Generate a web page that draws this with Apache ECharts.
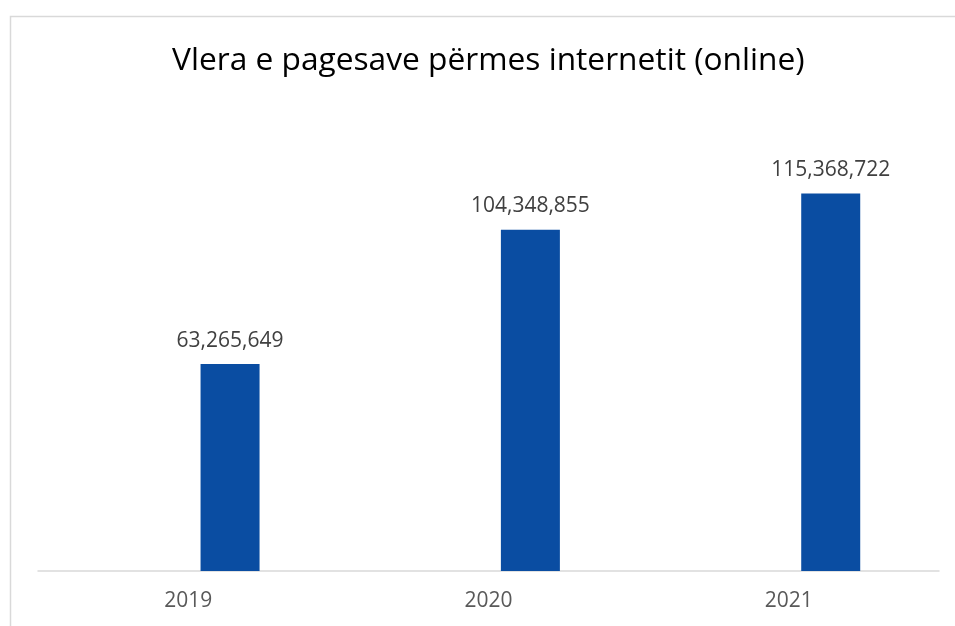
<!DOCTYPE html>
<html>
<head>
<meta charset="utf-8">
<script src="https://cdn.jsdelivr.net/npm/echarts@6/dist/echarts.min.js"></script>
<style>
  html, body { margin: 0; padding: 0; background: #fff; }
  #chart { width: 955px; height: 626px; }
</style>
</head>
<body>
<div id="chart"></div>
<script>
// te dhenat
var years = ['2019', '2020', '2021'];
var values = [63265649, 104348855, 115368722];
var emptySeries = [null, null, null];

var chart = echarts.init(document.getElementById('chart'));

var option = {
  animation: false,
  backgroundColor: '#fff',
  title: {
    text: 'Vlera e pagesave përmes internetit (online)',
    left: 167,
    top: 40,
    textStyle: {
      fontFamily: 'Open Sans',
      fontSize: 31.7,
      fontWeight: 'normal',
      color: '#000'
    }
  },
  graphic: [
    {
      type: 'rect',
      left: 8,
      top: 14,
      shape: { width: 1000, height: 700 },
      style: { fill: 'none', stroke: '#d9d9d9', lineWidth: 1.5 },
      silent: true
    }
  ],
  grid: {
    left: 38,
    right: 16,
    top: 113,
    bottom: 55
  },
  xAxis: {
    type: 'category',
    data: years,
    axisTick: { show: false },
    axisLine: { lineStyle: { color: '#d9d9d9', width: 1.5 } },
    axisLabel: {
      fontFamily: 'Open Sans',
      fontSize: 21,
      color: '#595959',
      margin: 20
    }
  },
  yAxis: {
    type: 'value',
    min: 0,
    max: 140000000,
    interval: 20000000,
    show: false
  },
  series: [
    {
      type: 'bar',
      data: emptySeries,
      barWidth: 59,
      barGap: '42%'
    },
    {
      type: 'bar',
      data: values,
      barWidth: 59,
      barGap: '42%',
      itemStyle: { color: '#0a4da2' },
      label: {
        show: true,
        position: 'top',
        distance: 13,
        fontFamily: 'Open Sans',
        fontSize: 21,
        color: '#404040',
        formatter: function (p) {
          return p.value.toLocaleString('en-US');
        }
      }
    }
  ]
};

chart.setOption(option);
</script>
</body>
</html>
